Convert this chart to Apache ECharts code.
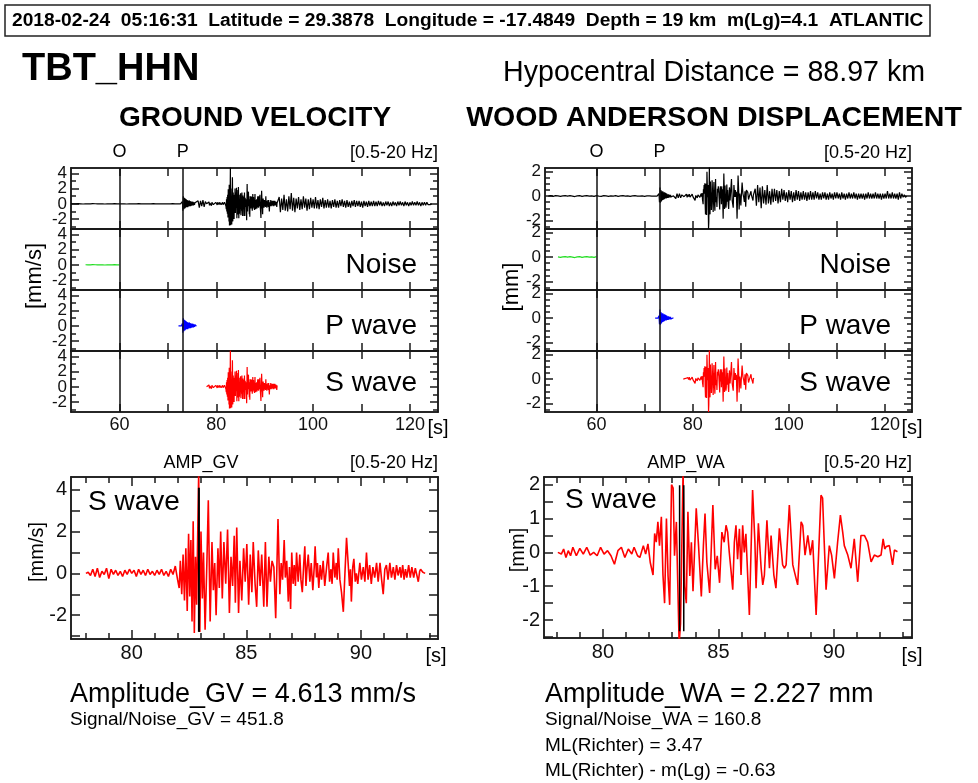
<!DOCTYPE html>
<html>
<head>
<meta charset="utf-8">
<script src="https://cdn.jsdelivr.net/npm/echarts@6/dist/echarts.min.js"></script>
<style>
html, body { margin: 0; padding: 0; background: #fff; }
#chart { width: 978px; height: 783px; }
</style>
</head>
<body>
<div id="chart"></div>
<script>
// picks (s)
var tO = 60, tP = 73.1;
var gvNoiseWin = [53, 60], waNoiseWin = [52, 60];

// pre-event samples, 50 s .. 72 s every 0.5 s
var preStart = 50, preStep = 0.5;
var gvPre = [0,0.01,-0.01,0.02,0,-0.02,0.01,0,-0.01,0.02,0.01,-0.01,0,0.01,-0.02,0.01,0,-0.01,0.02,0,-0.01,0.01,0,
  -0.02,0.01,0,0.01,-0.01,0.02,0,-0.01,0.01,0,-0.01,0.02,0,-0.01,0.01,0,0.01,-0.01,0,0.02,-0.01,0];
var waPre = [0,0.03,-0.02,0.04,0.01,-0.03,0.02,0.04,-0.01,0.03,0,-0.04,0.02,0.03,-0.02,0.01,0.04,-0.01,0.02,-0.03,0.03,0,
  -0.02,0.03,0.01,-0.03,0.02,0,0.03,-0.02,0.01,0.03,-0.01,0.02,-0.02,0.01,0.03,-0.01,0,0.02,-0.02,0.01,0.02,-0.01,0];

// P window, 72.2 s .. 76.1 s every 0.1 s
var pStart = 72.2, pStep = 0.1;
var gvP = [0,0,0,0,0,0,0,0,0.3,-0.9,1.0,-0.7,0.8,-0.6,0.7,-0.5,0.6,-0.4,0.5,-0.45,0.4,-0.35,0.45,-0.3,0.35,-0.3,
  0.3,-0.25,0.3,-0.2,0.25,-0.2,0.2,-0.15,0.15,-0.1,0.1,-0.05,0.05,0];
var waP = [0,0,0,0,0,0,0,0,0.2,-0.5,0.7,-0.55,0.5,-0.45,0.4,-0.35,0.4,-0.3,0.3,-0.25,0.3,-0.2,0.25,-0.2,0.2,-0.15,
  0.15,-0.15,0.15,-0.1,0.1,-0.1,0.1,-0.08,0.08,-0.05,0.05,-0.03,0.02,0];

// P coda, 76.25 s .. 77.75 s every 0.25 s
var pcStart = 76.25, pcStep = 0.25;
var gvPCoda = [0.4,-0.5,0.4,-0.3,0.5,-0.4,0.3];
var waPCoda = [0.15,-0.2,0.2,-0.15,0.2,-0.15,0.1];

// S window [t, value] (turning points)
var gvS = [
  [78.0,0],[78.1,0.05],[78.2,-0.1],[78.3,0.2],[78.4,-0.15],[78.5,0.25],[78.6,-0.2],[78.7,0.1],[78.8,-0.05],[78.9,0.25],
  [79.0,-0.25],[79.1,0.2],[79.2,-0.05],[79.3,0.15],[79.4,-0.1],[79.5,0.1],[79.6,-0.15],[79.7,0.15],[79.8,-0.05],[79.9,0.2],
  [80.0,0.0],[80.1,0.15],[80.2,-0.15],[80.3,0.2],[80.4,-0.05],[80.5,0.15],[80.6,-0.1],[80.7,0.2],[80.8,-0.05],[80.9,0.1],
  [81.0,-0.1],[81.1,0.15],[81.2,-0.05],[81.3,0.2],[81.4,-0.1],[81.5,0.1],[81.6,-0.15],[81.7,0.2],[81.8,-0.05],[81.9,0.35],
  [82.0,-0.3],[82.07,-0.7],[82.12,0.6],[82.18,-1.0],[82.24,0.9],[82.3,-1.3],[82.36,1.2],[82.42,-1.8],[82.48,1.9],[82.53,-1.1],
  [82.58,1.6],[82.63,-2.3],[82.68,2.5],[82.73,-2.85],[82.78,0.8],[82.83,-1.5],[82.92,4.8],[82.97,-2.8],[83.02,2.0],[83.08,-1.2],
  [83.13,1.0],[83.2,-2.7],[83.28,0.6],[83.34,3.5],[83.42,-2.3],[83.5,1.5],[83.56,-0.8],[83.62,0.5],[83.68,-2.0],[83.76,1.2],
  [83.82,-0.7],[83.88,2.0],[83.95,-1.2],[84.02,1.5],[84.1,-0.5],[84.18,2.1],[84.26,-1.9],[84.33,0.8],[84.4,-0.6],[84.47,1.8],
  [84.52,-1.4],[84.58,2.2],[84.66,-1.9],[84.72,0.6],[84.8,-1.3],[84.88,1.2],[84.95,-0.4],[85.02,1.4],[85.1,-1.5],[85.17,0.9],
  [85.24,-0.9],[85.3,1.5],[85.38,-0.5],[85.45,-1.6],[85.52,1.1],[85.6,-0.6],[85.67,0.9],[85.76,-1.6],[85.83,1.5],[85.9,-1.6],
  [85.98,0.8],[86.05,-0.4],[86.12,0.6],[86.2,0.3],[86.28,-2.15],[86.38,2.6],[86.46,-1.0],[86.52,0.5],[86.58,-0.3],[86.65,1.6],
  [86.7,-0.2],[86.76,0.6],[86.83,-1.35],[86.88,0.3],[86.93,-1.7],[86.98,1.0],[87.04,-0.5],[87.09,0.4],[87.14,-0.6],[87.19,1.0],
  [87.26,-0.4],[87.33,0.9],[87.38,-0.3],[87.44,-0.9],[87.5,0.4],[87.55,1.3],[87.6,-0.6],[87.65,0.3],[87.7,0.9],[87.77,-0.4],
  [87.83,0.5],[87.9,-0.8],[87.96,0.3],[88.0,1.3],[88.06,-0.2],[88.1,0.5],[88.16,-0.7],[88.22,0.4],[88.28,-0.3],[88.35,0.6],
  [88.42,-0.6],[88.5,0.3],[88.57,1.0],[88.63,-0.4],[88.69,0.2],[88.74,-0.5],[88.79,1.0],[88.86,-0.2],[88.92,0.5],[88.96,-0.3],
  [89.01,1.2],[89.08,-0.3],[89.15,-0.9],[89.23,-1.84],[89.3,0.0],[89.37,1.7],[89.44,0.5],[89.5,-0.6],[89.54,0.2],[89.58,-1.35],
  [89.64,0.3],[89.69,0.7],[89.75,-0.4],[89.8,0.0],[89.86,-0.5],[89.95,0.5],[90.02,-0.3],[90.1,0.3],[90.17,-0.4],[90.24,1.0],
  [90.31,-0.3],[90.38,0.4],[90.45,-0.5],[90.52,0.3],[90.6,-0.2],[90.68,0.5],[90.75,-0.4],[90.83,0.5],[90.9,-0.3],[90.97,-1.0],
  [91.04,0.2],[91.11,0.4],[91.18,-0.3],[91.26,0.5],[91.33,-0.2],[91.41,0.3],[91.48,-0.3],[91.55,0.4],[91.62,-0.1],[91.7,0.3],
  [91.75,-0.2],[91.82,0.4],[91.88,-0.3],[91.94,0.2],[92.0,-0.2],[92.08,0.4],[92.15,-0.2],[92.22,0.3],[92.3,-0.2],[92.37,0.25],
  [92.44,-0.1],[92.5,-0.4],[92.56,0.1],[92.6,0.2],[92.7,0.05],[92.8,0]
];
var waS = [
  [78.05,0],[78.2,-0.05],[78.3,0.1],[78.4,-0.15],[78.5,0.05],[78.6,-0.1],[78.7,0.15],[78.85,-0.1],[79.0,0.12],[79.15,-0.05],
  [79.3,0.15],[79.45,-0.08],[79.6,0.0],[79.75,-0.1],[79.9,0.15],[80.05,-0.05],[80.2,0.05],[80.35,-0.1],[80.5,-0.35],[80.65,0.05],
  [80.8,0.15],[80.95,-0.15],[81.1,0.1],[81.25,-0.05],[81.35,0.15],[81.5,-0.1],[81.6,-0.15],[81.75,0.2],[81.85,-0.05],[81.95,0.25],
  [82.05,-0.3],[82.17,-0.67],[82.24,0.56],[82.31,0.3],[82.38,0.9],[82.45,0.2],[82.53,1.05],[82.6,-0.67],[82.67,-1.5],[82.75,1.0],
  [82.82,-0.7],[82.89,-1.55],[82.97,2.0],[83.04,1.9],[83.1,-0.1],[83.18,0.9],[83.3,-2.7],[83.36,-2.1],[83.47,2.4],[83.54,-1.0],
  [83.61,-1.5],[83.68,1.2],[83.76,-0.7],[83.83,0.3],[83.9,-1.15],[84.04,1.3],[84.14,0.2],[84.26,-1.3],[84.35,0.2],[84.42,1.15],
  [84.5,-0.3],[84.62,-1.2],[84.76,1.4],[84.86,-0.5],[84.95,-0.1],[85.05,-0.9],[85.15,0.6],[85.25,0.3],[85.33,0.8],[85.4,0.6],
  [85.47,0.0],[85.55,-0.57],[85.62,-1.1],[85.69,0.3],[85.76,0.8],[85.83,-0.2],[85.91,0.7],[85.98,-0.67],[86.05,0.8],[86.12,0.0],
  [86.19,0.55],[86.27,0.6],[86.34,-1.85],[86.48,1.84],[86.58,0.3],[86.63,-1.06],[86.73,0.86],[86.85,-0.47],[86.92,-0.96],[86.99,-0.67],
  [87.1,0.95],[87.21,-0.47],[87.28,0.5],[87.4,-0.67],[87.49,-1.06],[87.64,0.71],[87.78,-0.37],[87.86,-0.47],[87.93,-0.37],[88.07,1.4],
  [88.22,-0.37],[88.29,-0.57],[88.43,-0.96],[88.58,0.9],[88.65,0.8],[88.75,-0.08],[88.87,0.5],[88.98,-0.08],[89.08,0.36],[89.23,-1.85],
  [89.3,-0.67],[89.44,1.69],[89.51,1.6],[89.58,0.3],[89.66,-1.1],[89.8,0.2],[89.9,-0.08],[90.02,-0.77],[90.16,0.3],[90.28,1.1],
  [90.38,0.6],[90.45,0.2],[90.6,-0.08],[90.74,-0.47],[90.88,0.4],[91.03,-0.87],[91.17,0.5],[91.32,0.5],[91.46,0.3],[91.61,-0.28],
  [91.75,-0.08],[91.9,-0.13],[92.04,-0.08],[92.13,0.4],[92.2,0.1],[92.26,0.17],[92.4,0.2],[92.54,-0.37],[92.62,0.07],[92.75,0.02]
];

// coda after the S window, 93 s .. 124.5 s every 0.25 s
var codaStart = 93, codaStep = 0.25;
var gvCoda = [
  0.9,-1.1,0.7,-0.8,1.2,-0.9,0.6,-1.0, 1.0,-0.7,1.4,-0.9,0.8,-1.1,0.7,-0.6, 0.9,-0.8,0.6,-0.7,1.0,-0.5,0.7,-0.9,
  0.6,-0.7,0.8,-0.5,0.6,-0.6,0.9,-0.6, 0.5,-0.7,0.6,-0.4,0.8,-0.6,0.5,-0.5, 0.6,-0.5,0.4,-0.6,0.5,-0.4,0.6,-0.5,
  0.4,-0.5,0.5,-0.3,0.6,-0.4,0.4,-0.5, 0.5,-0.4,0.3,-0.5,0.4,-0.3,0.5,-0.4, 0.4,-0.3,0.4,-0.4,0.3,-0.5,0.4,-0.3,
  0.3,-0.4,0.4,-0.3,0.3,-0.3,0.4,-0.3, 0.3,-0.3,0.4,-0.2,0.3,-0.3,0.2,-0.3, 0.3,-0.2,0.3,-0.3,0.2,-0.3,0.3,-0.2,
  0.2,-0.3,0.3,-0.2,0.3,-0.2,0.2,-0.3, 0.3,-0.2,0.2,-0.3,0.2,-0.2,0.3,-0.2, 0.2,-0.2,0.3,-0.2,0.2,-0.3,0.2,-0.2,
  0.2,-0.2,0.2,-0.1,0.1,-0.1,0
];
var waCoda = [
  0.6,-0.8,0.9,-0.5,0.7,-1.0,0.8,-0.6, 0.5,-0.7,0.9,-0.6,0.4,-0.7,0.6,-0.5, 0.6,-0.4,0.5,-0.6,0.4,-0.5,0.6,-0.3,
  0.5,-0.4,0.3,-0.5,0.5,-0.3,0.4,-0.5, 0.3,-0.4,0.5,-0.3,0.4,-0.4,0.3,-0.3, 0.4,-0.3,0.3,-0.4,0.3,-0.3,0.4,-0.3,
  0.3,-0.3,0.4,-0.2,0.3,-0.3,0.2,-0.3, 0.3,-0.2,0.3,-0.3,0.2,-0.3,0.3,-0.2, 0.2,-0.3,0.3,-0.2,0.3,-0.2,0.2,-0.3,
  0.3,-0.2,0.2,-0.3,0.2,-0.2,0.3,-0.2, 0.2,-0.2,0.3,-0.2,0.2,-0.3,0.2,-0.2, 0.2,-0.2,0.2,-0.3,0.2,-0.2,0.3,-0.2,
  0.2,-0.2,0.2,-0.2,0.3,-0.2,0.2,-0.2, 0.2,-0.3,0.2,-0.2,0.2,-0.2,0.4,-0.2, 0.2,-0.2,0.3,-0.2,0.2,-0.2,0.2,-0.3,
  0.3,-0.2,0.2,-0.1,0.1,-0.1,0
];

// amplitude pick markers
var gvMarkT = [82.93], gvMarkV = [-2.8, 4.1];
var waMarkT = [83.32, 83.5], waMarkV = [-2.33, 1.98];

// axis ranges and ticks
var gvTopY = [-3.3, 4.7], waTopY = [-2.7, 2.3];
var gvTopX = [50, 125.8], waTopX = [49.3, 125.6];
var gvBotX = [77.35, 93.36], waBotX = [77.45, 93.38];
var gvBotY = [-3.14, 4.613], waBotY = [-2.53, 2.227];
var topXMajor = [60, 70, 80, 90, 100, 110, 120], topXLabels = [60, 80, 100, 120];
var botXMajor = [80, 85, 90], botXMinor = [78, 79, 81, 82, 83, 84, 86, 87, 88, 89, 91, 92, 93];
var gvYLabels = [-2, 0, 2, 4], gvYMinor = [-3, -1, 1, 3];
var waTopYLabels = [-2, 0, 2], waTopYMinor = [-2.5, -1.5, -1, -0.5, 0.5, 1, 1.5];
var waBotYLabels = [-2, -1, 0, 1, 2], waBotYMinor = [-2.5, -1.5, -0.5, 0.5, 1.5];

var FONT = 'Liberation Sans';
var FRAME = '#1a1a1a';

function regular(start, step, vals) {
  return vals.map(function (v, i) { return [+(start + i * step).toFixed(3), v]; });
}
function inWin(arr, win) {
  return arr.filter(function (p) { return p[0] >= win[0] && p[0] <= win[1]; });
}

var gvPreD = regular(preStart, preStep, gvPre), waPreD = regular(preStart, preStep, waPre);
var gvPD = regular(pStart, pStep, gvP), waPD = regular(pStart, pStep, waP);
var gvFull = gvPreD.concat(gvPD, regular(pcStart, pcStep, gvPCoda), gvS, regular(codaStart, codaStep, gvCoda));
var waFull = waPreD.concat(waPD, regular(pcStart, pcStep, waPCoda), waS, regular(codaStart, codaStep, waCoda));

var grids = [], xAxes = [], yAxes = [], series = [], graphics = [];

function axis(g, dim, pos, range, ticks, len, labels, fs) {
  var a = {
    type: 'value', gridIndex: g, position: pos, min: range[0], max: range[1],
    axisLine: {show: true, onZero: false, lineStyle: {color: FRAME, width: 1.5}},
    axisTick: {show: ticks.length > 0, inside: true, length: len, customValues: ticks, lineStyle: {color: FRAME, width: 1.5}},
    axisLabel: {show: false},
    splitLine: {show: false}
  };
  if (labels) {
    a.axisLabel = {show: true, customValues: labels, hideOverlap: false, color: '#111',
      fontFamily: FONT, fontSize: fs, margin: 4};
  }
  var list = dim === 'x' ? xAxes : yAxes;
  list.push(a);
  return list.length - 1;
}

// one framed panel with mirrored ticks on all four sides;
// y labels go on alternate axes so tightly packed ones are not dropped
function panel(box, xr, yr, xt, yt) {
  var g = grids.length;
  grids.push({left: box[0], top: box[1], width: box[2], height: box[3]});
  var xi = axis(g, 'x', 'bottom', xr, xt.major, xt.len[0], xt.labels, xt.fs);
  axis(g, 'x', 'bottom', xr, xt.minor, xt.len[1]);
  axis(g, 'x', 'top', xr, xt.major, xt.len[0]);
  axis(g, 'x', 'top', xr, xt.minor, xt.len[1]);
  var odd = yt.labels.filter(function (v, i) { return i % 2 === 0; });
  var even = yt.labels.filter(function (v, i) { return i % 2 === 1; });
  var yi = axis(g, 'y', 'left', yr, yt.major, yt.len[0], odd, yt.fs);
  axis(g, 'y', 'left', yr, yt.minor, yt.len[1], even, yt.fs);
  axis(g, 'y', 'right', yr, yt.major, yt.len[0]);
  axis(g, 'y', 'right', yr, yt.minor, yt.len[1]);
  return {x: xi, y: yi};
}

function trace(p, data, color, width, marks) {
  var s = {
    type: 'line', xAxisIndex: p.x, yAxisIndex: p.y, data: data,
    showSymbol: false, symbol: 'none', animation: false, silent: true, clip: true,
    lineStyle: {color: color, width: width}
  };
  if (marks) {
    s.markLine = {
      silent: true, symbol: 'none', animation: false, label: {show: false},
      lineStyle: {color: '#111', width: 1.5, type: 'solid'},
      data: marks.map(function (t) { return {xAxis: t}; })
    };
  }
  series.push(s);
}

function txt(x, y, s, size, opts) {
  opts = opts || {};
  graphics.push({
    type: 'text', x: x, y: y, rotation: opts.rot || 0, silent: true, z: 100,
    style: {
      text: s, fill: '#000', textAlign: opts.align || 'left', textVerticalAlign: 'middle',
      font: (opts.bold ? 'bold ' : '') + size + 'px "' + FONT + '"'
    }
  });
}

// ---- upper stacks ----
var stacks = [
  {left: 71, xr: gvTopX, yr: gvTopY, full: gvFull, pre: gvPreD, win: gvNoiseWin, p: gvPD, s: gvS,
   yt: {major: gvYLabels, minor: gvYMinor, labels: gvYLabels, len: [8, 5], fs: 17}},
  {left: 545, xr: waTopX, yr: waTopY, full: waFull, pre: waPreD, win: waNoiseWin, p: waPD, s: waS,
   yt: {major: waTopYLabels, minor: waTopYMinor, labels: waTopYLabels, len: [8, 5], fs: 17}}
];
var tops = [168, 229, 290, 351], ph = 61, pw = 367;

stacks.forEach(function (st) {
  var rows = [
    {data: st.full, color: '#000'},
    {data: inWin(st.pre, st.win), color: '#22dd22'},
    {data: st.p, color: '#0000ff'},
    {data: st.s, color: '#ff0000'}
  ];
  rows.forEach(function (r, i) {
    var xt = {major: topXMajor, minor: [], labels: i === 3 ? topXLabels : null, len: [8, 5], fs: 18};
    var p = panel([st.left, tops[i], pw, ph], st.xr, st.yr, xt, st.yt);
    trace(p, r.data, r.color, 1.2, [tO, tP]);
  });
  var px = function (t) { return st.left + (t - st.xr[0]) / (st.xr[1] - st.xr[0]) * pw; };
  txt(px(tO), 152, 'O', 18, {align: 'center'});
  txt(px(tP), 152, 'P', 18, {align: 'center'});
  txt(st.left + pw, 153, '[0.5-20 Hz]', 18, {align: 'right'});
  txt(st.left + pw - 21, 265, 'Noise', 28, {align: 'right'});
  txt(st.left + pw - 21, 326, 'P wave', 28, {align: 'right'});
  txt(st.left + pw - 21, 383, 'S wave', 28, {align: 'right'});
  txt(st.left + pw + 0, 428, '[s]', 20, {align: 'center'});
});

// ---- lower amplitude panels ----
var gvB = panel([71, 477, 367, 162], gvBotX, gvBotY,
  {major: botXMajor, minor: botXMinor, labels: botXMajor, len: [9, 6], fs: 20},
  {major: gvYLabels, minor: gvYMinor, labels: gvYLabels, len: [9, 9], fs: 20});
trace(gvB, gvS, '#ff0000', 1.6);
gvMarkT.forEach(function (t) { trace(gvB, gvMarkV.map(function (v) { return [t, v]; }), '#000', 2); });

var waB = panel([544, 477, 368, 161], waBotX, waBotY,
  {major: botXMajor, minor: botXMinor, labels: botXMajor, len: [9, 6], fs: 20},
  {major: waBotYLabels, minor: waBotYMinor, labels: waBotYLabels, len: [9, 9], fs: 20});
trace(waB, waS, '#ff0000', 1.6);
waMarkT.forEach(function (t) { trace(waB, waMarkV.map(function (v) { return [t, v]; }), '#000', 1.5); });

// ---- text ----
graphics.push({type: 'rect', silent: true, shape: {x: 5, y: 5, width: 925, height: 31},
  style: {fill: '#fff', stroke: '#222', lineWidth: 1.5}});
txt(12, 21, '2018-02-24  05:16:31  Latitude = 29.3878  Longitude = -17.4849  Depth = 19 km  m(Lg)=4.1  ATLANTIC', 19.2, {bold: true});
txt(22, 70, 'TBT_HHN', 38, {bold: true});
txt(925, 73, 'Hypocentral Distance = 88.97 km', 28.6, {align: 'right'});
txt(255, 118, 'GROUND VELOCITY', 28, {bold: true, align: 'center'});
txt(714, 118, 'WOOD ANDERSON DISPLACEMENT', 28.5, {bold: true, align: 'center'});
txt(35, 276, '[mm/s]', 22, {align: 'center', rot: Math.PI / 2});
txt(512, 287, '[mm]', 22, {align: 'center', rot: Math.PI / 2});

txt(201, 463, 'AMP_GV', 18, {align: 'center'});
txt(438, 463, '[0.5-20 Hz]', 18, {align: 'right'});
txt(686, 463, 'AMP_WA', 18, {align: 'center'});
txt(912, 463, '[0.5-20 Hz]', 18, {align: 'right'});
txt(88, 502, 'S wave', 28);
txt(565, 500, 'S wave', 28);
txt(37, 552, '[mm/s]', 20, {align: 'center', rot: Math.PI / 2});
txt(518, 550, '[mm]', 20, {align: 'center', rot: Math.PI / 2});
txt(436, 656, '[s]', 20, {align: 'center'});
txt(912, 656, '[s]', 20, {align: 'center'});

txt(70, 695, 'Amplitude_GV = 4.613 mm/s', 27);
txt(70, 720, 'Signal/Noise_GV = 451.8', 19);
txt(545, 695, 'Amplitude_WA = 2.227 mm', 27);
txt(545, 720, 'Signal/Noise_WA = 160.8', 19);
txt(545, 746, 'ML(Richter) = 3.47', 19);
txt(545, 771, 'ML(Richter) - m(Lg) = -0.63', 19);

var chart = echarts.init(document.getElementById('chart'), null, {renderer: 'canvas'});
chart.setOption({
  animation: false,
  backgroundColor: '#fff',
  grid: grids,
  xAxis: xAxes,
  yAxis: yAxes,
  series: series,
  graphic: graphics
});
</script>
</body>
</html>
